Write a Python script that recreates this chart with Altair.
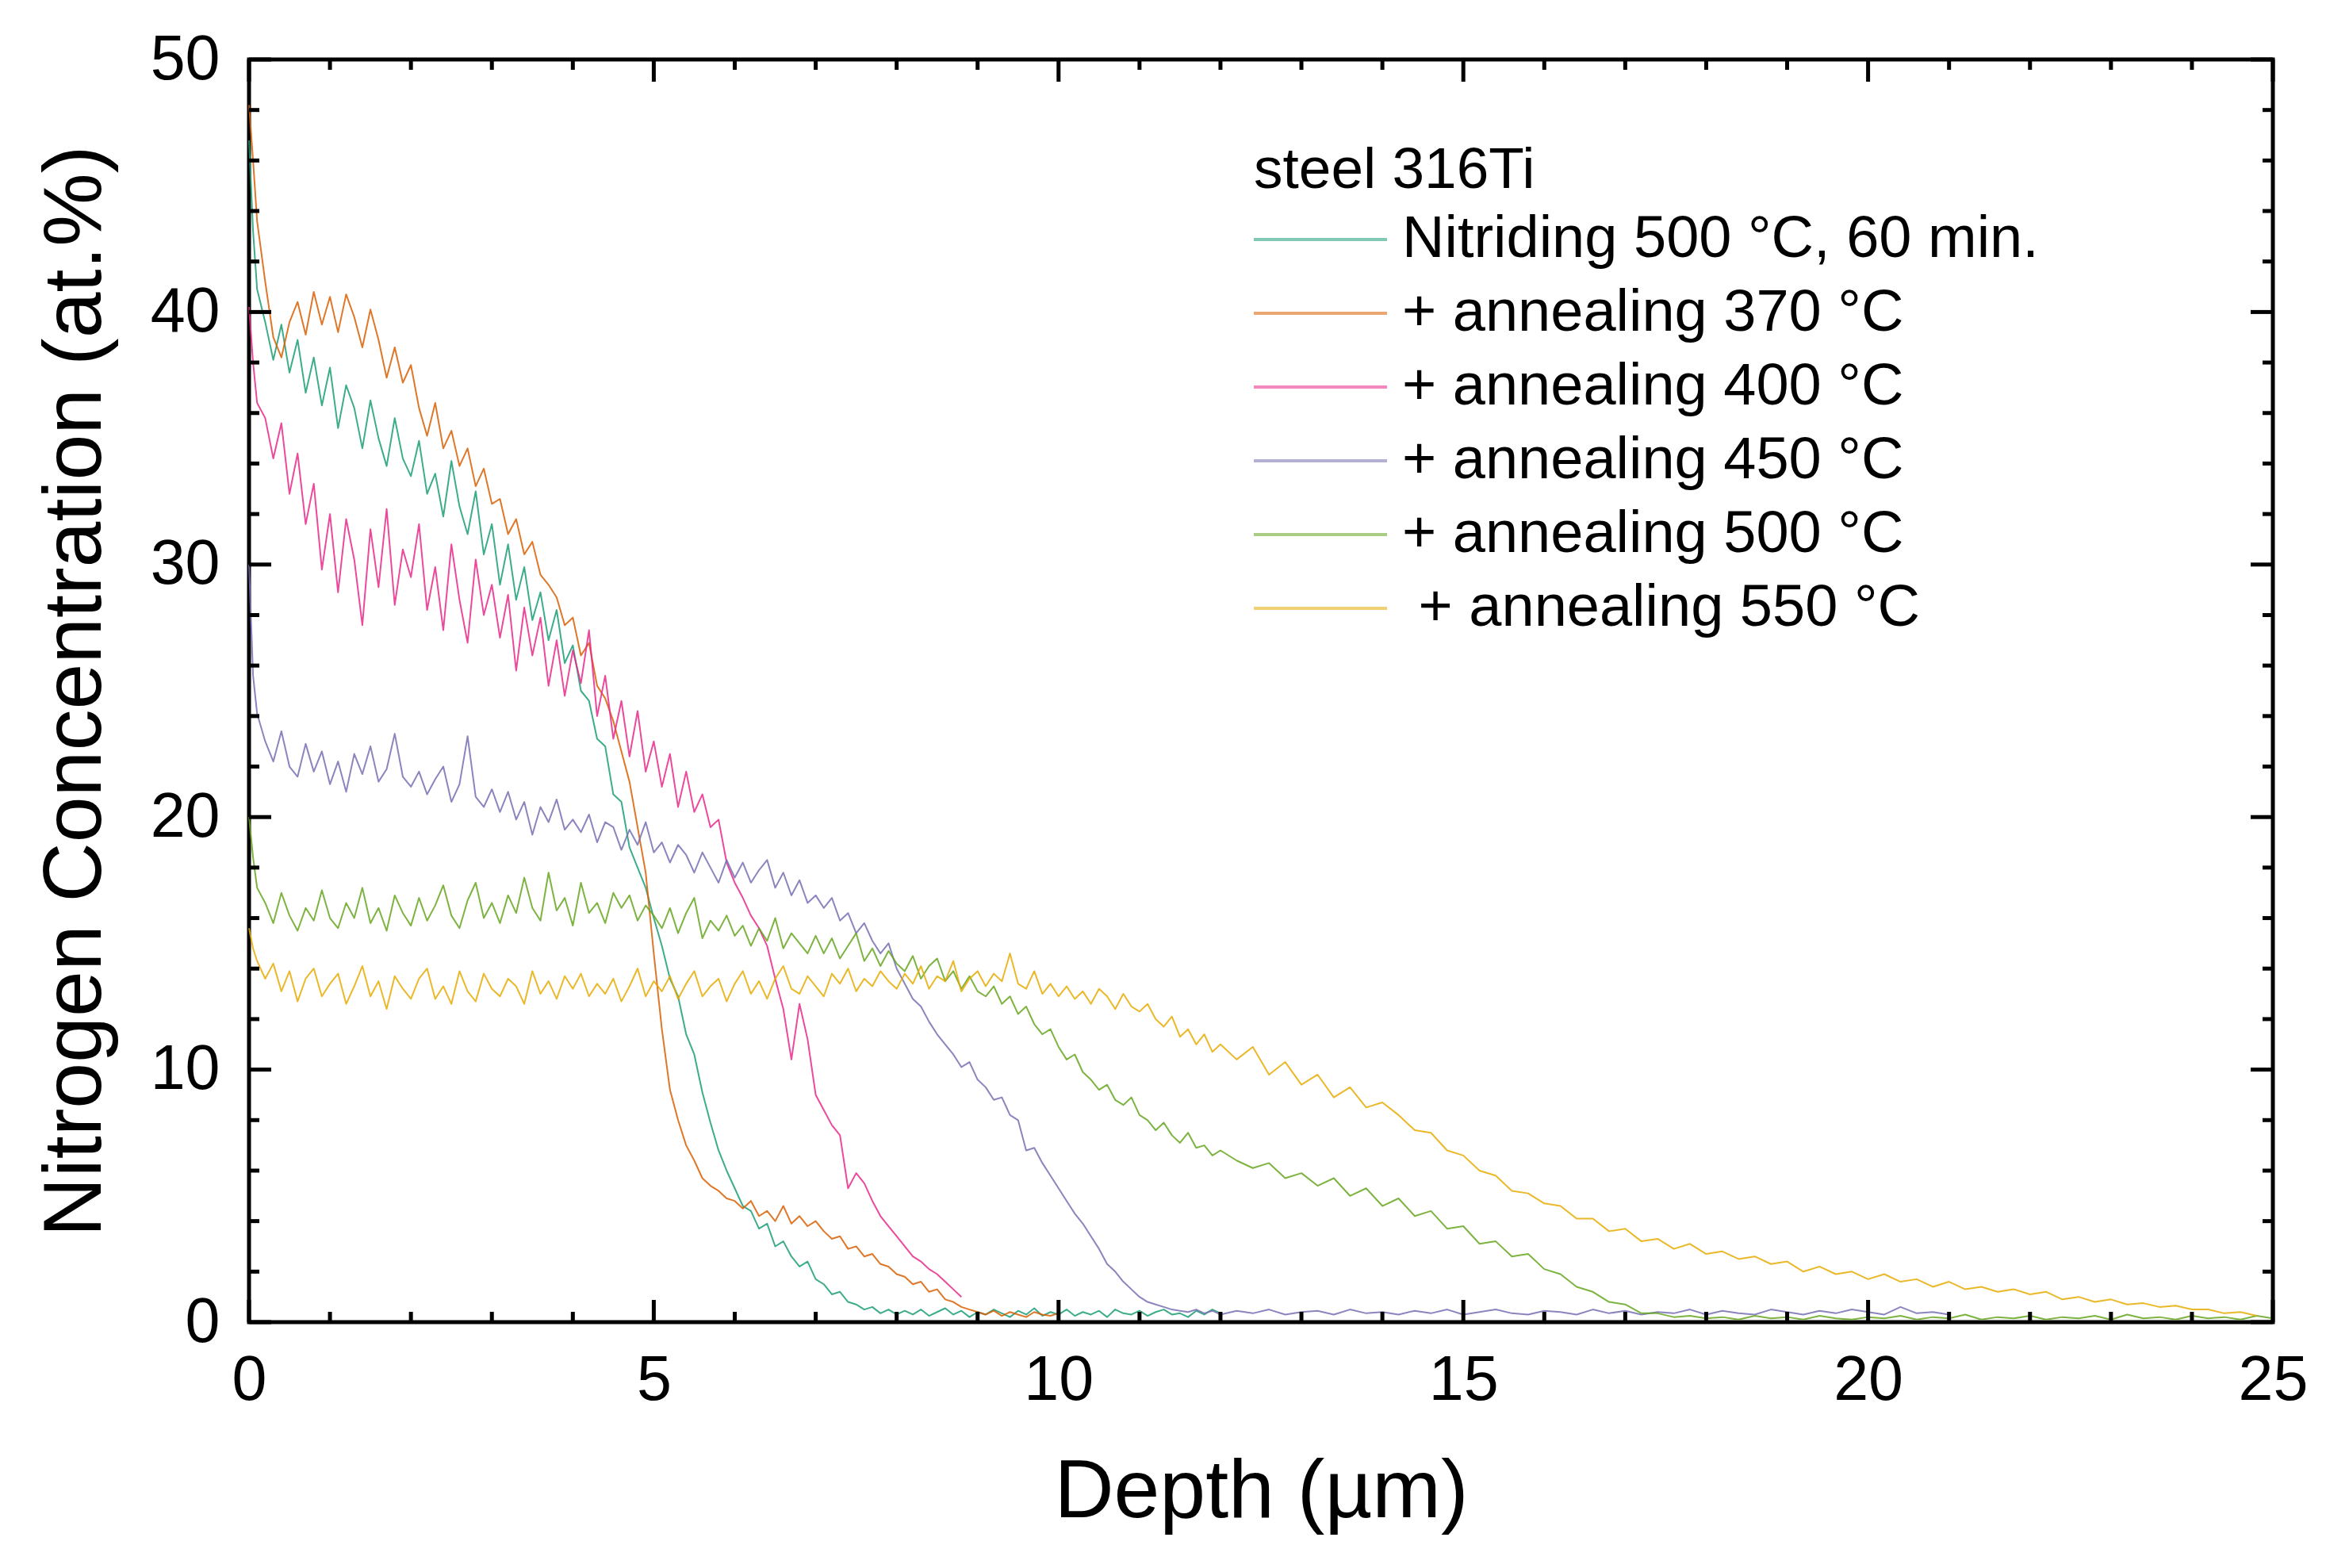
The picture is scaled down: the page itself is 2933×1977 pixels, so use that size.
import altair as alt
import pandas as pd

# depth grid (µm): 0.1 µm steps up to 12 µm, 0.2 µm steps beyond
depth = ([0.0, 0.05] + [round(0.1 * k, 1) for k in range(1, 121)]
         + [round(12 + 0.2 * k, 1) for k in range(1, 66)])

labels = [
    "Nitriding 500 °C, 60 min.",
    "+ annealing 370 °C",
    "+ annealing 400 °C",
    "+ annealing 450 °C",
    "+ annealing 500 °C",
    "\u200b\u00a0+ annealing 550 °C",
]
colors = ["#1b9e77", "#d95f02", "#e7298a", "#7570b3", "#66a61e", "#e6ab02"]

nitrided = [
    46.8, 43.2, 40.9, 39.6, 38.1, 39.5, 37.6, 38.9, 36.8, 38.2, 36.3, 37.8,
    35.4, 37.1, 36.2, 34.6, 36.5, 35.0, 33.9, 35.8, 34.2, 33.5,
    34.9, 32.8, 33.6, 31.9, 34.1, 32.3, 31.2, 32.9, 30.4, 31.6,
    29.2, 30.8, 28.6, 29.9, 27.8, 28.9, 27.0, 28.2, 26.1, 26.8,
    25.0, 24.6, 23.1, 22.8, 20.9, 20.6, 18.8, 18.0, 17.2, 16.0,
    14.9, 13.6, 12.9, 11.4, 10.6, 9.1, 7.9, 6.8, 6.0, 5.3,
    4.6, 4.4, 3.7, 3.9, 3.0, 3.2, 2.6, 2.2, 2.4, 1.7,
    1.5, 1.1, 1.2, 0.8, 0.7, 0.5, 0.6, 0.35, 0.5, 0.3,
    0.45, 0.3, 0.5, 0.25, 0.4, 0.55, 0.3, 0.45, 0.2, 0.4,
    0.3, 0.5, 0.35, 0.2, 0.45, 0.3, 0.55, 0.25, 0.4, 0.3,
    0.5, 0.25, 0.4, 0.3, 0.45, 0.2, 0.5, 0.35, 0.3, 0.45,
    0.25, 0.4, 0.5, 0.3, 0.35, 0.2, 0.45, 0.3, 0.5, 0.35,
]
ann370 = [
    48.2, 46.0, 43.6, 41.2, 39.0, 38.2, 39.6, 40.4, 39.1, 40.8, 39.5, 40.6,
    39.2, 40.7, 39.8, 38.6, 40.1, 38.9, 37.4, 38.6, 37.2, 37.9,
    36.2, 35.1, 36.4, 34.6, 35.3, 33.9, 34.6, 33.1, 33.8, 32.4,
    32.6, 31.2, 31.8, 30.4, 30.9, 29.6, 29.2, 28.7, 27.6, 27.9,
    26.4, 26.9, 25.2, 24.7, 23.8, 22.6, 21.4, 19.6, 17.8, 14.6,
    11.6, 9.2, 8.0, 7.0, 6.4, 5.7, 5.4, 5.2, 4.9, 4.8,
    4.5, 4.8, 4.2, 4.4, 4.0, 4.6, 3.9, 4.2, 3.8, 4.0,
    3.6, 3.3, 3.4, 2.9, 3.0, 2.6, 2.7, 2.3, 2.2, 1.9,
    1.8, 1.5, 1.6, 1.2, 1.3, 0.9, 0.8, 0.6, 0.5, 0.4,
    0.3, 0.45, 0.25, 0.4, 0.3, 0.2, 0.4, 0.3, 0.25, 0.35,
]
ann400 = [
    40.2, 38.0, 36.4, 35.8, 34.2, 35.6, 32.8, 34.4, 31.6, 33.2, 29.8, 32.0,
    28.9, 31.8, 30.2, 27.6, 31.4, 29.1, 32.2, 28.4, 30.6, 29.5,
    31.6, 28.2, 29.9, 27.4, 30.8, 28.6, 26.9, 30.2, 28.0, 29.2,
    27.1, 28.8, 25.8, 28.3, 26.4, 27.9, 25.2, 27.0, 24.8, 26.6,
    25.3, 27.4, 24.0, 25.6, 23.1, 24.6, 22.4, 24.2, 21.8, 23.0,
    21.2, 22.5, 20.4, 21.8, 20.2, 20.9, 19.6, 19.9, 18.2, 17.4,
    16.8, 16.1, 15.6, 14.9, 13.6, 12.4, 10.4, 12.6, 11.2, 9.0,
    8.4, 7.8, 7.4, 5.3, 5.9, 5.5, 4.8, 4.2, 3.8, 3.4,
    3.0, 2.6, 2.4, 2.1, 1.9, 1.6, 1.3, 1.0,
]
ann450 = [
    30.0, 25.6, 24.1, 23.0, 22.2, 23.4, 22.0, 21.6, 22.9, 21.8, 22.6, 21.3,
    22.2, 21.0, 22.5, 21.7, 22.8, 21.4, 21.9, 23.3, 21.6, 21.2,
    21.8, 20.9, 21.5, 22.0, 20.6, 21.3, 23.2, 20.8, 20.4, 21.1,
    20.2, 21.0, 19.9, 20.6, 19.3, 20.4, 19.8, 20.7, 19.5, 19.9,
    19.4, 20.1, 19.0, 19.8, 19.6, 18.7, 19.5, 18.9, 19.8, 18.6,
    19.0, 18.2, 18.9, 18.5, 17.8, 18.6, 18.0, 17.4, 18.3, 17.6,
    18.2, 17.4, 17.9, 18.3, 17.2, 17.8, 16.9, 17.5, 16.6, 16.9,
    16.4, 16.8, 15.9, 16.2, 15.4, 15.8, 15.1, 14.6, 15.0, 14.0,
    13.4, 12.8, 12.5, 11.9, 11.4, 11.0, 10.6, 10.1, 10.3, 9.6,
    9.3, 8.8, 8.9, 8.2, 8.0, 6.8, 6.9, 6.3, 5.8, 5.3,
    4.8, 4.3, 3.9, 3.4, 2.9, 2.3, 2.0, 1.6, 1.3, 1.0,
    0.8, 0.7, 0.6, 0.5, 0.45, 0.4, 0.5, 0.35, 0.45, 0.3,
    0.45, 0.35, 0.5, 0.3, 0.4, 0.45, 0.3, 0.5, 0.35, 0.4,
    0.3, 0.45, 0.35, 0.5, 0.3, 0.4, 0.5, 0.35, 0.3, 0.45,
    0.4, 0.3, 0.5, 0.35, 0.45, 0.3, 0.4, 0.35, 0.5, 0.3,
    0.45, 0.35, 0.3, 0.5, 0.4, 0.3, 0.45, 0.35, 0.5, 0.4,
    0.3, 0.6, 0.35, 0.4, 0.3,
]
ann500 = [
    20.0, 18.4, 17.2, 16.6, 15.8, 17.0, 16.1, 15.5, 16.4, 15.9, 17.1, 16.0,
    15.6, 16.6, 16.0, 17.2, 15.8, 16.4, 15.5, 16.9, 16.2, 15.7,
    16.8, 15.9, 16.5, 17.3, 16.1, 15.6, 16.7, 17.4, 16.0, 16.6,
    15.8, 16.9, 16.2, 17.6, 16.4, 15.9, 17.8, 16.3, 16.8, 15.7,
    17.4, 16.2, 16.6, 15.8, 17.0, 16.4, 16.9, 15.9, 16.5, 16.1,
    15.6, 16.4, 15.4, 16.2, 16.8, 15.2, 15.9, 15.5, 16.1, 15.3,
    15.7, 14.9, 15.6, 15.1, 16.0, 14.8, 15.4, 15.0, 14.6, 15.3,
    14.6, 15.2, 14.4, 14.9, 15.4, 14.3, 14.8, 14.1, 14.7, 14.2,
    13.9, 14.5, 13.6, 14.1, 14.4, 13.5, 13.9, 13.2, 13.7, 13.1,
    12.9, 13.3, 12.6, 12.9, 12.2, 12.5, 11.8, 11.4, 11.6, 10.9,
    10.4, 10.6, 9.9, 9.6, 9.2, 9.4, 8.8, 8.6, 8.9, 8.2,
    8.0, 7.6, 7.9, 7.4, 7.1, 7.5, 6.9, 7.0, 6.6, 6.8,
    6.4, 6.1, 6.3, 5.7, 5.9, 5.4, 5.7, 5.0, 5.3, 4.6,
    4.9, 4.2, 4.4, 3.7, 3.8, 3.1, 3.2, 2.6, 2.7, 2.1,
    1.9, 1.4, 1.2, 0.8, 0.7, 0.35, 0.35, 0.2, 0.25, 0.15,
    0.2, 0.1, 0.25, 0.15, 0.2, 0.1, 0.25, 0.15, 0.1, 0.2,
    0.15, 0.25, 0.1, 0.2, 0.15, 0.3, 0.1, 0.2, 0.15, 0.25,
    0.1, 0.2, 0.15, 0.25, 0.1, 0.3, 0.15, 0.2, 0.1, 0.25,
    0.15, 0.2, 0.1, 0.25, 0.15,
]
ann550 = [
    15.6, 14.8, 14.3, 13.6, 14.2, 13.1, 13.9, 12.7, 13.6, 14.0, 12.9, 13.4,
    13.8, 12.6, 13.3, 14.1, 12.9, 13.5, 12.4, 13.7, 13.2, 12.8,
    13.6, 14.0, 12.8, 13.3, 12.6, 13.9, 13.1, 12.7, 13.8, 13.2,
    12.9, 13.6, 13.3, 12.6, 13.9, 13.0, 13.5, 12.8, 13.7, 13.2,
    13.8, 12.9, 13.4, 13.0, 13.6, 12.7, 13.3, 14.0, 12.9, 13.5,
    13.1, 13.7, 12.8, 13.4, 13.9, 12.9, 13.3, 13.6, 12.7, 13.4,
    13.9, 13.0, 13.5, 12.8, 13.6, 14.1, 13.2, 13.0, 13.7, 13.3,
    12.9, 13.8, 13.4, 14.0, 13.1, 13.6, 13.3, 13.9, 13.5, 13.2,
    13.8, 13.4, 14.1, 13.2, 13.7, 13.5, 14.3, 13.1, 13.6, 13.9,
    13.3, 13.8, 13.5, 14.6, 13.4, 13.2, 13.9, 13.0, 13.4, 12.9,
    13.3, 12.8, 13.1, 12.6, 13.2, 12.9, 12.4, 13.0, 12.5, 12.3,
    12.6, 12.0, 11.7, 12.1, 11.3, 11.6, 11.0, 11.4, 10.7, 11.0,
    10.4, 10.9, 9.8, 10.3, 9.4, 9.8, 8.9, 9.3, 8.5, 8.7,
    8.2, 7.6, 7.5, 6.8, 6.6, 6.0, 5.8, 5.2, 5.1, 4.7,
    4.6, 4.1, 4.1, 3.6, 3.7, 3.2, 3.3, 2.9, 3.1, 2.7,
    2.8, 2.5, 2.6, 2.3, 2.4, 2.0, 2.2, 1.9, 2.0, 1.7,
    1.9, 1.6, 1.7, 1.4, 1.6, 1.3, 1.4, 1.2, 1.3, 1.1,
    1.2, 0.9, 1.0, 0.8, 0.9, 0.7, 0.75, 0.6, 0.65, 0.5,
    0.5, 0.35, 0.4, 0.25,
]

x_major = [0, 5, 10, 15, 20, 25]
x_minor = [1, 2, 3, 4, 6, 7, 8, 9, 11, 12, 13, 14, 16, 17, 18, 19, 21, 22, 23, 24]
y_major = [0, 10, 20, 30, 40, 50]
y_minor = [2, 4, 6, 8, 12, 14, 16, 18, 22, 24, 26, 28, 32, 34, 36, 38, 42, 44, 46, 48]

rows = []
for name, vals in zip(labels, [nitrided, ann370, ann400, ann450, ann500, ann550]):
    for d, v in zip(depth, vals):
        rows.append({"depth": d, "conc": v, "series": name})
source = pd.DataFrame(rows)

W, H = 2552, 1592
FONT = "Liberation Sans"
xscale = alt.Scale(domain=[0, 25], nice=False, zero=False)
yscale = alt.Scale(domain=[0, 50], nice=False, zero=False)
xaxis = alt.Axis(values=x_major, title="Depth (µm)", labelPadding=35,
                 titlePadding=50, labelFlush=False)
yaxis = alt.Axis(values=y_major, title="Nitrogen Concentration (at.%)",
                 labelPadding=37, titlePadding=41, labelFlush=False)

lines = alt.Chart(source).mark_line(strokeWidth=2, opacity=0.85, strokeJoin="round").encode(
    x=alt.X("depth:Q", scale=xscale, axis=xaxis),
    y=alt.Y("conc:Q", scale=yscale, axis=yaxis),
    color=alt.Color("series:N", scale=alt.Scale(domain=labels, range=colors),
                    legend=alt.Legend(
                        orient="none", legendX=1267, legendY=104, padding=0,
                        title="steel 316Ti", titleFontSize=73, titleFontWeight="normal",
                        titleFont=FONT, titleColor="black", titlePadding=13, titleLimit=2000,
                        labelFontSize=74, labelFont=FONT, labelColor="black", labelLimit=2000,
                        symbolType="M-3,0H3", symbolSize=3136, symbolStrokeWidth=4,
                        symbolOpacity=0.55, symbolOffset=47, labelOffset=66, rowPadding=19)),
)


def tick_layer(vals, channel, side, length):
    base = alt.Chart(pd.DataFrame({"v": vals})).mark_rule(color="black", strokeWidth=5)
    if channel == "x":
        xenc = alt.X("v:Q", scale=xscale, axis=xaxis)
        if side == "bottom":
            return base.encode(x=xenc, y=alt.value(H), y2=alt.value(H - length))
        return base.encode(x=xenc, y=alt.value(0), y2=alt.value(length))
    yenc = alt.Y("v:Q", scale=yscale, axis=yaxis)
    if side == "left":
        return base.encode(y=yenc, x=alt.value(0), x2=alt.value(length))
    return base.encode(y=yenc, x=alt.value(W), x2=alt.value(W - length))


ticks = []
for side in ["bottom", "top"]:
    ticks.append(tick_layer(x_major, "x", side, 28))
    ticks.append(tick_layer(x_minor, "x", side, 13))
for side in ["left", "right"]:
    ticks.append(tick_layer(y_major, "y", side, 28))
    ticks.append(tick_layer(y_minor, "y", side, 13))

chart = alt.layer(lines, *ticks).properties(
    width=W, height=H,
    autosize=alt.AutoSizeParams(type="none"),
    padding={"left": 306, "top": 67, "right": 59, "bottom": 302},
).configure(font=FONT).configure_view(
    stroke="black", strokeWidth=5
).configure_axis(
    labelFont=FONT, labelFontSize=79, labelColor="black",
    titleFont=FONT, titleFontSize=104, titleFontWeight="normal", titleColor="black",
    ticks=False, tickSize=0, domain=False, grid=False, labelOverlap=False,
)

chart.save("out.html", embed_options={"renderer": "svg", "actions": False})
